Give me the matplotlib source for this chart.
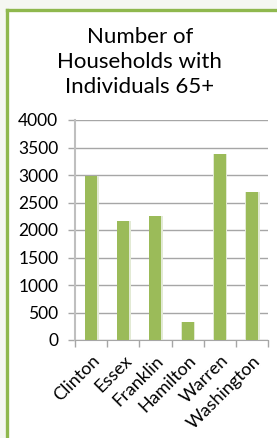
import numpy as np
import matplotlib
matplotlib.use("Agg")
import matplotlib.pyplot as plt
from matplotlib.patches import Rectangle
from matplotlib.lines import Line2D

counties = ["Clinton", "Essex", "Franklin", "Hamilton", "Warren", "Washington"]
households = [2990, 2170, 2250, 335, 3390, 2685]
y_ticks = [0, 500, 1000, 1500, 2000, 2500, 3000, 3500, 4000]

bar_color = "#9bbb59"
grid_color = "#a6a6a6"
font_family = ["Lato", "DejaVu Sans"]

fig = plt.figure(figsize=(2.77, 4.38), dpi=100)
fig.patch.set_facecolor("#f5f7f2")

# white panel with green frame (left and top edges)
fig.patches.append(Rectangle((8 / 277, 0), 1, 1 - 10 / 438, transform=fig.transFigure,
                             facecolor="white", edgecolor="none", zorder=-2))
fig.lines.append(Line2D([7 / 277, 7 / 277], [0, 1 - 10 / 438], transform=fig.transFigure,
                        color="#8fb84e", linewidth=2.4, solid_capstyle="projecting", zorder=-1))
fig.lines.append(Line2D([7 / 277, 1], [1 - 10 / 438, 1 - 10 / 438], transform=fig.transFigure,
                        color="#8fb84e", linewidth=2.4, solid_capstyle="projecting", zorder=-1))

ax = fig.add_axes([75 / 277, 1 - 340 / 438, (268 - 75) / 277, 220 / 438])
ax.set_facecolor("none")

x = np.arange(len(counties))
# soft shadow behind each bar
ax.bar(x + 0.02, households, width=0.44, color="#e2ead4", zorder=2)
ax.bar(x, households, width=0.37, color=bar_color, zorder=3)

ax.set_xlim(-0.5, len(counties) - 0.5)
ax.set_ylim(0, 4000)
ax.set_yticks(y_ticks)
ax.set_yticklabels([str(v) for v in y_ticks], fontsize=12.5, family=font_family)
ax.yaxis.grid(True, color=grid_color, linewidth=1)
ax.set_axisbelow(True)

# x ticks at category boundaries, labels at centers
ax.set_xticks(np.arange(len(counties) + 1) - 0.5)
ax.set_xticklabels([])
ax.set_xticks(x, minor=True)
ax.set_xticklabels(counties, minor=True, rotation=45, ha="right", rotation_mode="anchor",
                   fontsize=13, family=font_family)
ax.tick_params(axis="x", which="minor", length=0, pad=9)
ax.tick_params(axis="x", which="major", length=5, color=grid_color, width=1)
ax.tick_params(axis="y", length=5, color=grid_color, width=1, pad=7)

for side in ["top", "right"]:
    ax.spines[side].set_visible(False)
ax.spines["left"].set_color("#bfbfbf")
ax.spines["left"].set_linewidth(1.5)
ax.spines["bottom"].set_color(grid_color)

fig.text(0.505, 1 - 62 / 438, "Number of\nHouseholds with\nIndividuals 65+", ha="center", va="center",
         fontsize=16, family=font_family, linespacing=1.3)

fig.savefig("out.png", dpi=100)
